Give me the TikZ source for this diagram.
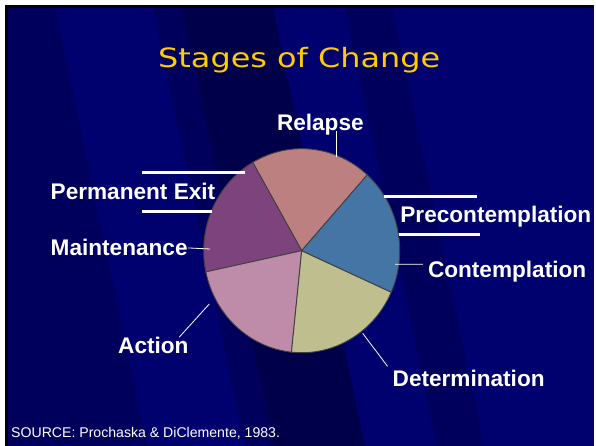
\documentclass[tikz,border=0pt]{standalone}
\usepackage{fontspec}
\setmainfont{Liberation Sans}
\newfontfamily\titlefont[FakeStretch=1.2]{DejaVu Sans}

\definecolor{navy}{RGB}{0,0,110}
\definecolor{navydark}{RGB}{0,0,92}
\definecolor{navydeep}{RGB}{0,0,74}
\definecolor{titleyellow}{RGB}{255,204,0}
\definecolor{pieedge}{RGB}{64,64,64}
\definecolor{relapsecol}{RGB}{188,128,128}
\definecolor{maintcol}{RGB}{125,67,125}
\definecolor{actioncol}{RGB}{190,140,168}
\definecolor{determcol}{RGB}{190,190,142}
\definecolor{contempcol}{RGB}{69,117,165}

\begin{document}
\begin{tikzpicture}[x=1pt,y=1pt,
    every node/.style={inner sep=0,anchor=base west},
    stage/.style={font=\bfseries\fontsize{22.6}{27}\selectfont,text=white},
    leader/.style={white,line width=.8pt},
    bar/.style={white,line width=2.7pt},
    slice/.style={draw=pieedge,line width=.9pt}]

    % slide background
    \useasboundingbox (0,0) rectangle (596,446);
    \fill[white] (0,0) rectangle (596,446);
    \fill[black] (5,0) rectangle (594,441);
    \fill[navy] (8,0) rectangle (594,438);
    \begin{scope}
      \clip (8,0) rectangle (594,438);
      \fill[navydark] (8,438) -- (55,438) -- (147,0) -- (8,0) -- cycle;
      \fill[navydark] (153,438) -- (182,438) -- (274,0) -- (245,0) -- cycle;
      \fill[navydeep] (182,438) -- (273,438) -- (365,0) -- (274,0) -- cycle;
      \fill[navydark] (345,438) -- (392,438) -- (484,0) -- (437,0) -- cycle;
    \end{scope}

    \node[font=\titlefont\fontsize{26.6}{32}\selectfont,text=titleyellow] (title) at (158,378.3) {Stages of Change};

    % pie, five equal slices
    \foreach \a/\col in {48/relapsecol,120/maintcol,192/actioncol,264/determcol,336/contempcol}
      \filldraw[slice,fill=\col] (301.7,195.3) -- ++(\a:98 and 102)
        arc[start angle=\a,delta angle=72,x radius=98,y radius=102] -- cycle;

    \node[stage] (relapse) at (276.8,315) {Relapse};
    \node[stage] (permexit) at (50.5,246) {Permanent Exit};
    \node[stage] (maint) at (50.5,190) {Maintenance};
    \node[stage] (precontemp) at (400.2,223.5) {Precontemplation};
    \node[stage] (contemp) at (427.8,168.7) {Contemplation};
    \node[stage] (determ) at (392.5,59.4) {Determination};
    \node[stage] (action) at (118,92.2) {Action};
    \node[font=\fontsize{14.1}{17}\selectfont,text=white] (source) at (11,8) {SOURCE: Prochaska \& DiClemente, 1983.};

    \coordinate (relapse-pt) at (336.7,288.7);
    \coordinate (maint-pt) at (210,197);
    \coordinate (contemp-pt) at (395,181.7);
    \coordinate (determ-pt) at (362.7,112.7);
    \coordinate (action-pt) at (209.3,142);

    \draw[leader] (relapse-pt |- relapse.base) -- (relapse-pt);
    \draw[leader] (maint.east) -- (maint-pt);
    \draw[leader] ([shift={(-5,7.2)}]contemp.west) -- (contemp-pt);
    \draw[leader] ([shift={(-5,3.7)}]determ.north west) -- (determ-pt);
    \draw[leader] ([xshift=-9.5pt]action.north east) -- (action-pt);

    % bars round the two extra stages
    \draw[bar] (141.7,273.3) -- (245,273.3);
    \draw[bar] (141.7,234.3) -- (211.7,234.3);
    \draw[bar] (384,249.3) -- (476.7,249.3);
    \draw[bar] (399.3,211.7) -- (480,211.7);

\end{tikzpicture}
\end{document}
